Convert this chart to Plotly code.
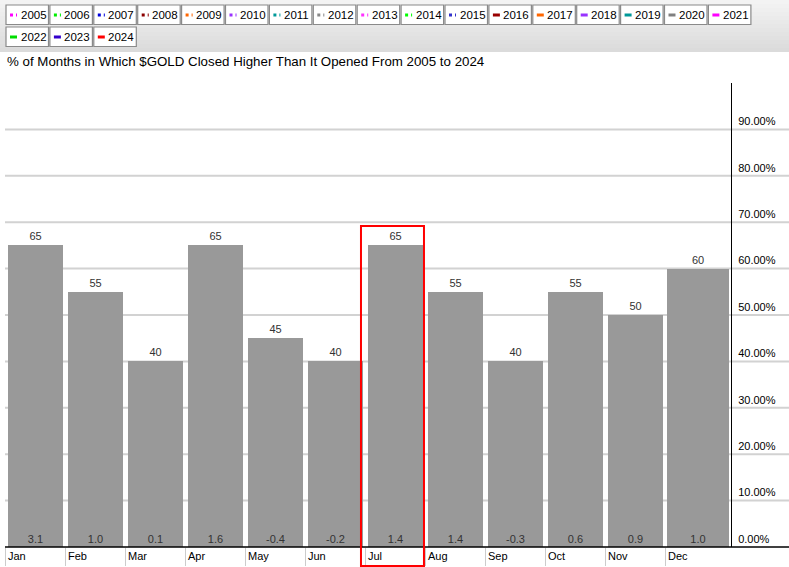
import plotly.graph_objects as go

months = ["Jan", "Feb", "Mar", "Apr", "May", "Jun", "Jul", "Aug", "Sep", "Oct", "Nov", "Dec"]
pct_higher = [65, 55, 40, 65, 45, 40, 65, 55, 40, 55, 50, 60]
avg_change = [3.1, 1.0, 0.1, 1.6, -0.4, -0.2, 1.4, 1.4, -0.3, 0.6, 0.9, 1.0]
y_tick_vals = [0, 10, 20, 30, 40, 50, 60, 70, 80, 90]
y_tick_text = ["0.00%", "10.00%", "20.00%", "30.00%", "40.00%", "50.00%", "60.00%", "70.00%", "80.00%", "90.00%"]
legend_years = ["2005", "2006", "2007", "2008", "2009", "2010", "2011", "2012", "2013", "2014",
                "2015", "2016", "2017", "2018", "2019", "2020", "2021", "2022", "2023", "2024"]
legend_colors = ["#ff00ff", "#00ee00", "#0000dd", "#8b0000", "#ff6600", "#9933ff", "#009999", "#888888",
                 "#ff33ff", "#00ff00", "#3333cc", "#990000", "#ff6600", "#9933ff", "#009999", "#808080",
                 "#ff00ff", "#00dd00", "#3300cc", "#ff0000"]
legend_dotted = [True] * 11 + [False] * 9
highlight_month = "Jul"

FONT = "Liberation Sans, Arial, sans-serif"
W, H = 789, 567
L, R, T, B = 5, 58, 83, 20
PW, PH = W - L - R, H - T - B
X0 = -0.508
X1 = X0 + PW / 60.0

def px_x(p):
    return (p - L) / PW

def px_y(p):
    return (H - B - p) / PH

def dx(v):
    return (v - X0) / (X1 - X0)

xs = list(range(len(months)))
widths = [0.917] * (len(months) - 1) + [1.033]
offsets = [-0.458] * (len(months) - 1) + [-0.475]
centers = [x + o + w / 2 for x, o, w in zip(xs, offsets, widths)]

fig = go.Figure()
fig.add_trace(go.Bar(
    x=xs, y=pct_higher, width=widths, offset=offsets,
    marker=dict(color="#999999", line=dict(width=0)),
    text=[str(v) for v in pct_higher], textposition="outside",
    textfont=dict(size=11, color="#333333", family=FONT),
    cliponaxis=False, hoverinfo="skip",
))
fig.add_trace(go.Scatter(
    x=centers, y=[1.4] * len(months), mode="text",
    text=[f"{v:.1f}" for v in avg_change], textposition="middle center",
    textfont=dict(size=11, color="#333333", family=FONT),
    hoverinfo="skip", cliponaxis=False,
))

shapes = []
annotations = []

# header gradient
n_bands = 13
c_top, c_bot = 0xf3, 0xdb
for i in range(n_bands):
    c = int(round(c_top + (c_bot - c_top) * i / (n_bands - 1)))
    col = f"rgb({c},{c},{c})"
    shapes.append(dict(type="rect", xref="paper", yref="paper",
                       x0=px_x(0), x1=px_x(W), y0=px_y(i * 4), y1=px_y(i * 4 + 4),
                       fillcolor=col, line=dict(width=0), layer="below"))

# legend boxes
for i, (yr, col, dot) in enumerate(zip(legend_years, legend_colors, legend_dotted)):
    row = 0 if i < 17 else 1
    k = i if i < 17 else i - 17
    left = 6 + k * 43.9
    top = 5 + row * 22
    shapes.append(dict(type="rect", xref="paper", yref="paper",
                       x0=px_x(left), x1=px_x(left + 42.5), y0=px_y(top + 19.5), y1=px_y(top),
                       fillcolor="white", line=dict(color="#8a8a8a", width=1.2), layer="above"))
    cy = top + 10
    shapes.append(dict(type="line", xref="paper", yref="paper",
                       x0=px_x(left + 4), x1=px_x(left + 11), y0=px_y(cy), y1=px_y(cy),
                       line=dict(color=col, width=3, dash="dot" if dot else "solid"), layer="above"))
    annotations.append(dict(xref="paper", yref="paper", x=px_x(left + 12.5), y=px_y(cy),
                            xanchor="left", yanchor="middle", showarrow=False,
                            text=yr, font=dict(size=11.5, color="black", family=FONT)))

# title
annotations.append(dict(xref="paper", yref="paper", x=px_x(5), y=px_y(61),
                        xanchor="left", yanchor="middle", showarrow=False,
                        text="% of Months in Which $GOLD Closed Higher Than It Opened From 2005 to 2024",
                        font=dict(size=13.3, color="black", family=FONT)))

# gridlines extending past the axis
for v in y_tick_vals[1:]:
    shapes.append(dict(type="line", xref="paper", yref="paper",
                       x0=px_x(5), x1=px_x(W), y0=v / 100, y1=v / 100,
                       line=dict(color="#d2d2d2", width=2), layer="below"))
shapes.append(dict(type="line", xref="paper", yref="paper",
                   x0=px_x(5), x1=px_x(W), y0=0, y1=0,
                   line=dict(color="black", width=1.5), layer="above"))

# highlight rectangle
hi = months.index(highlight_month)
shapes.append(dict(type="rect", xref="paper", yref="paper",
                   x0=dx(hi - 0.575), x1=dx(hi + 0.475),
                   y0=px_y(566), y1=(pct_higher[hi] + 4.2) / 100,
                   line=dict(color="#ff0000", width=2), fillcolor="rgba(0,0,0,0)", layer="above"))

fig.update_layout(
    width=W, height=H,
    margin=dict(l=L, r=R, t=T, b=B, pad=0, autoexpand=False),
    paper_bgcolor="white", plot_bgcolor="white",
    showlegend=False, bargap=0,
    font=dict(family=FONT, size=11, color="black"),
    shapes=shapes, annotations=annotations,
    xaxis=dict(range=[X0, X1], tickvals=[x - 0.5 for x in xs], ticktext=months,
               ticks="outside", ticklen=18, tickcolor="#cccccc", tickwidth=1,
               ticklabelposition="outside right", ticklabelstandoff=-1, ticklabelshift=2,
               showgrid=False, zeroline=False, showline=False, automargin=False,
               tickfont=dict(size=11, color="black", family=FONT), fixedrange=True),
    yaxis=dict(range=[0, 100], side="right", tickvals=y_tick_vals, ticktext=y_tick_text,
               showgrid=False, zeroline=False, showline=True, linecolor="black", linewidth=1,
               ticks="", ticklabelshift=-8, ticklabelstandoff=4, automargin=False,
               tickfont=dict(size=11, color="black", family=FONT), fixedrange=True),
)

fig.write_html("out.html", config={"displayModeBar": False},
               post_script="document.body.style.margin='0';")
